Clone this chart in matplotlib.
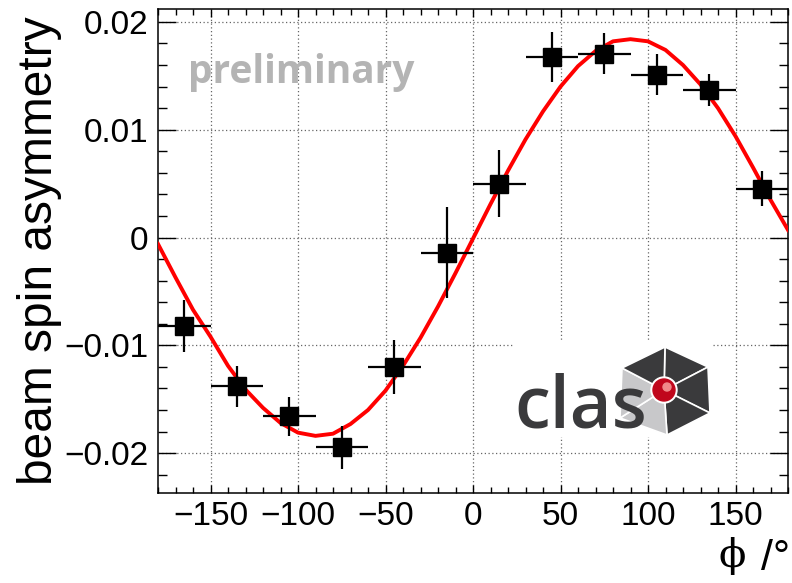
import matplotlib
matplotlib.use('Agg')
import matplotlib.pyplot as plt
from matplotlib.patches import Polygon, Circle
from matplotlib.ticker import MultipleLocator

# data
phi = [-165, -135, -105, -75, -45, -15, 15, 45, 75, 105, 135, 165]
bsa = [-0.00824, -0.0138, -0.01657, -0.01944, -0.01204, -0.00139,
       0.0050, 0.01676, 0.01704, 0.01509, 0.0137, 0.00454]
bsa_err = [0.0024, 0.0019, 0.0018, 0.0020, 0.0025, 0.0042,
           0.0031, 0.0023, 0.0019, 0.0019, 0.0015, 0.0016]
bin_half = [15] * 12

# fit curve
fit_phi = [-180, -170, -160, -150, -140, -130, -120, -110, -100, -90,
           -80, -70, -60, -50, -40, -30, -20, -10, 0, 10, 20, 30, 40,
           50, 60, 70, 80, 90, 100, 110, 120, 130, 140, 150, 160, 170, 180]
fit_bsa = [-0.0006, -0.0037, -0.0067, -0.0092, -0.0119, -0.0141, -0.0158,
           -0.0172, -0.0181, -0.0184, -0.0182, -0.0173, -0.0160, -0.0142,
           -0.0119, -0.0093, -0.0064, -0.0033, -0.0001, 0.0031, 0.0062,
           0.0091, 0.0117, 0.0140, 0.0159, 0.0173, 0.0182, 0.0184, 0.0182,
           0.0174, 0.0160, 0.0142, 0.0120, 0.0094, 0.0065, 0.0035, 0.0007]

x_ticks = [-150, -100, -50, 0, 50, 100, 150]
x_labels = ['\u2212150', '\u2212100', '\u221250', '0', '50', '100', '150']
y_ticks = [-0.02, -0.01, 0, 0.01, 0.02]
y_labels = ['\u22120.02', '\u22120.01', '0', '0.01', '0.02']

plt.rcParams['font.family'] = ['Liberation Sans', 'DejaVu Sans']

fig = plt.figure(figsize=(7.92, 5.83), dpi=100)
ax = fig.add_axes([158 / 792, 90 / 583, 630 / 792, 484 / 583])

ax.plot(fit_phi, fit_bsa, color='#ff0000', lw=2.8, zorder=4)
ax.errorbar(phi, bsa, yerr=bsa_err, xerr=bin_half, fmt='s', color='black',
            markersize=12.5, elinewidth=1.6, capsize=0, zorder=5)

ax.set_xlim(-180, 180)
ax.set_ylim(-0.0237, 0.0212)
ax.set_xticks(x_ticks)
ax.set_xticklabels(x_labels)
ax.set_yticks(y_ticks)
ax.set_yticklabels(y_labels)
ax.xaxis.set_minor_locator(MultipleLocator(10))
ax.yaxis.set_minor_locator(MultipleLocator(0.002))

ax.tick_params(axis='both', which='both', direction='in', top=True, right=True,
               labelsize=24, width=1.0, colors='black')
ax.tick_params(axis='x', which='major', length=6, pad=6)
ax.tick_params(axis='x', which='minor', length=4)
ax.tick_params(axis='y', which='major', length=13, pad=7)
ax.tick_params(axis='y', which='minor', length=6.5)
for s in ax.spines.values():
    s.set_linewidth(1.1)

ax.grid(True, which='major', color='#666666', linestyle=(0, (1, 2)), lw=0.9)
ax.set_axisbelow(True)

ax.set_ylabel('beam spin asymmetry', fontsize=34.5)
ax.yaxis.set_label_coords(-0.152, 0.5)

# x axis title: phi symbol + unit
fig.text(718 / 792, 16 / 583, '\u03d5', fontsize=29, ha='left', va='baseline',
         family=['DejaVu Serif'])
fig.text(790 / 792, 13 / 583, '/\u00b0', fontsize=31, ha='right', va='baseline')

ax.text(188 / 792, 500 / 583, 'preliminary', transform=fig.transFigure,
        fontsize=28, fontweight='bold', color='#b4b4b4', family='Open Sans',
        ha='left', va='baseline')

# clas logo in its own white box
lg = fig.add_axes([514 / 792, 146 / 583, 198 / 792, 97 / 583])
lg.set_xlim(0, 198)
lg.set_ylim(97, 0)
lg.axis('off')
lg.add_patch(Polygon([[0, 0], [198, 0], [198, 97], [0, 97]], closed=True,
                     color='white', zorder=0))
c = (150, 50)
verts = [(151, 7), (194, 27), (196, 73), (153, 95), (106, 78), (108, 28)]
shades = ['#3a3a3c', '#3a3a3c', '#3a3a3c', '#c8c8ca', '#c8c8ca', '#3a3a3c']
for i in range(6):
    tri = [c, verts[i], verts[(i + 1) % 6]]
    lg.add_patch(Polygon(tri, closed=True, facecolor=shades[i],
                         edgecolor='white', lw=1.2, zorder=1))
lg.text(0, 87, 'clas', fontsize=52, fontweight='semibold', color='#3a3a3c',
        family='Open Sans', ha='left', va='baseline', zorder=2)
lg.add_patch(Circle(c, 13, color='white', zorder=3))
lg.add_patch(Circle(c, 11, color='#c0071c', zorder=4))
lg.add_patch(Circle((153, 47), 4, color='#f08a8a', zorder=5))

fig.savefig('out.png', dpi=100)
